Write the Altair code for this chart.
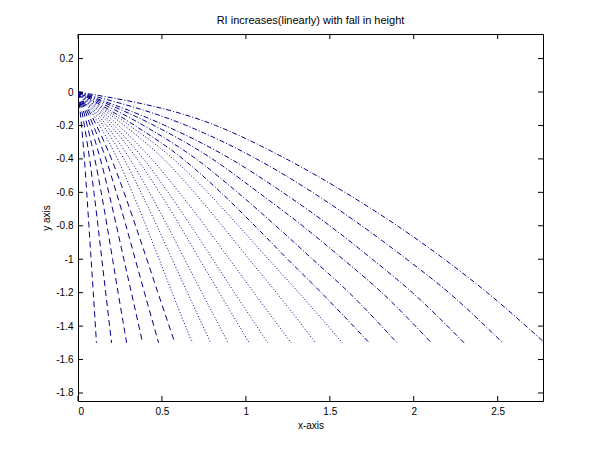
import altair as alt
import pandas as pd

# ---- data ----
depth_levels = [0.0, -0.2, -0.4, -0.6, -0.8, -1.0, -1.2, -1.5]

x_at_0 = [0.0] * 20
x_at_m02 = [0.021, 0.038, 0.055, 0.073, 0.091, 0.110, 0.129, 0.150, 0.170, 0.194,
            0.215, 0.241, 0.276, 0.307, 0.338, 0.390, 0.453, 0.518, 0.645, 0.820]
x_at_m04 = [0.038, 0.069, 0.100, 0.133, 0.166, 0.199, 0.235, 0.273, 0.309, 0.352,
            0.390, 0.438, 0.509, 0.567, 0.625, 0.703, 0.800, 0.909, 1.063, 1.240]
x_at_m06 = [0.052, 0.095, 0.138, 0.183, 0.228, 0.274, 0.323, 0.375, 0.425, 0.485,
            0.537, 0.603, 0.693, 0.772, 0.850, 0.950, 1.074, 1.219, 1.397, 1.590]
x_at_m08 = [0.065, 0.119, 0.173, 0.229, 0.286, 0.343, 0.405, 0.470, 0.533, 0.607,
            0.672, 0.756, 0.859, 0.956, 1.053, 1.178, 1.337, 1.500, 1.690, 1.902]
x_at_m10 = [0.078, 0.142, 0.206, 0.273, 0.341, 0.410, 0.483, 0.561, 0.635, 0.724,
            0.802, 0.902, 1.019, 1.134, 1.249, 1.397, 1.579, 1.753, 1.958, 2.182]
x_at_m12 = [0.091, 0.165, 0.239, 0.318, 0.396, 0.476, 0.561, 0.652, 0.738, 0.842,
            0.932, 1.048, 1.182, 1.315, 1.449, 1.615, 1.810, 1.992, 2.209, 2.438]
x_at_m15 = [0.11, 0.20, 0.29, 0.385, 0.48, 0.577, 0.68, 0.79, 0.895, 1.02,
            1.13, 1.27, 1.415, 1.575, 1.735, 1.90, 2.105, 2.30, 2.53, 2.78]

x_tick_values = [0, 0.5, 1, 1.5, 2, 2.5]
y_tick_values = [0.2, 0, -0.2, -0.4, -0.6, -0.8, -1, -1.2, -1.4, -1.6, -1.8]

x_domain = [0, 2.77]
y_domain = [-1.848, 0.347]

# ---- build table ----
columns = [x_at_0, x_at_m02, x_at_m04, x_at_m06, x_at_m08, x_at_m10, x_at_m12, x_at_m15]
rows = []
for i in range(20):
    group = "a" if i < 6 else ("b" if i < 14 else "c")
    for lvl, col in zip(depth_levels, columns):
        rows.append({"curve": i, "grp": group, "x": col[i], "y": lvl})
df = pd.DataFrame(rows)

xt = pd.DataFrame({"x": x_tick_values})
yt = pd.DataFrame({"y": y_tick_values})

W, H = 465, 367
LINE = "#00008b"

lab = "datum.value < 0 ? '-' + format(-datum.value, '') : format(datum.value, '')"
X = alt.X("x:Q", scale=alt.Scale(domain=x_domain, nice=False, zero=False),
          axis=alt.Axis(values=x_tick_values, labelExpr=lab, title="x-axis",
                        grid=False, tickSize=0, domain=False))
Y = alt.Y("y:Q", scale=alt.Scale(domain=y_domain, nice=False, zero=False),
          axis=alt.Axis(values=y_tick_values, labelExpr=lab, title="y axis",
                        grid=False, tickSize=0, domain=False))

lines = alt.Chart(df).mark_line(clip=True, strokeWidth=1, color=LINE, interpolate="monotone").encode(
    x=X, y=Y,
    detail="curve:N",
    strokeDash=alt.StrokeDash("grp:N", legend=None,
                              scale=alt.Scale(domain=["a", "b", "c"],
                                              range=[[6, 4], [1, 2], [5, 2, 1, 2]])),
)

tick_style = dict(color="black", strokeWidth=1)
left_t = alt.Chart(yt).mark_rule(**tick_style).encode(y=Y, x=alt.value(0), x2=alt.value(5))
right_t = alt.Chart(yt).mark_rule(**tick_style).encode(y=Y, x=alt.value(W), x2=alt.value(W - 5))
bot_t = alt.Chart(xt).mark_rule(**tick_style).encode(x=X, y=alt.value(H), y2=alt.value(H - 5))
top_t = alt.Chart(xt).mark_rule(**tick_style).encode(x=X, y=alt.value(0), y2=alt.value(5))

chart = alt.layer(lines, left_t, right_t, bot_t, top_t).properties(
    width=W, height=H,
    title=alt.TitleParams("RI increases(linearly) with fall in height",
                          fontSize=11, fontWeight="normal", font="Liberation Sans",
                          color="black", offset=8),
    autosize=alt.AutoSizeParams(type="none"),
    padding={"left": 70, "top": 26, "right": 49, "bottom": 40},
).configure_view(stroke="black", strokeWidth=1).configure_axis(
    labelFont="Liberation Sans", labelFontSize=10, labelColor="black", labelPadding=5,
    titleFont="Liberation Sans", titleFontSize=10, titleFontWeight="normal",
    titleColor="black", titlePadding=4,
)

chart.save("out.html", embed_options={"renderer": "svg", "actions": False})
